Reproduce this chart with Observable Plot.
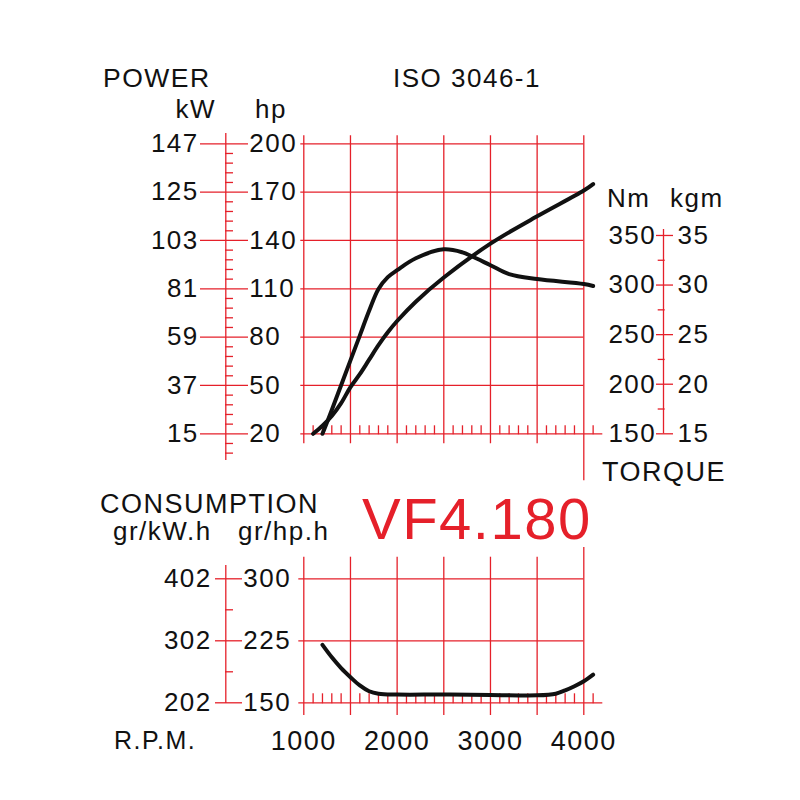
<!DOCTYPE html>
<html><head><meta charset="utf-8">
<script src="https://cdn.jsdelivr.net/npm/d3@7"></script>
<script src="https://cdn.jsdelivr.net/npm/@observablehq/plot@0.6"></script>
<style>
html,body{margin:0;padding:0;background:#fff;}
#wrap{position:relative;width:800px;height:800px;overflow:hidden;background:#fff;}
#wrap svg{position:absolute;left:0;}
svg text{letter-spacing:1.5px;}
#overlay{top:0;pointer-events:none;}
</style></head><body>
<div id="wrap">
</div>
<script>
// ---------- data ----------
const rpmPower = [1100,1200,1300,1400,1500,1600,1700,1800,1900,2000,2200,2500,3000,3500,4000,4100];
const powerHp  = [20,25,31,39,49,57,66,75,83,90,102,117,138,155,171,175];

const rpmTorque = [1200,1300,1400,1500,1600,1700,1800,1900,2000,2200,2500,2700,2800,3000,3200,3500,4000,4100];
const torqueNm  = [150,174,199,224,249,274,296,308,315,327,336,333,329,320,311,306,301,299];

const rpmCons  = [1200,1300,1400,1500,1600,1700,1800,2000,2500,3000,3500,3700,3800,3900,4000,4100];
const consGrHp = [220,205,192,181,171,164,161,160,160,159.5,159,161,165,170,176,184];

const hpTicks   = [20,50,80,110,140,170,200];
const kwLabels  = [15,37,59,81,103,125,147];
const nmTicks   = [150,200,250,300,350];
const kgmLabels = [15,20,25,30,35];
const nmMinor   = [175,225,275,325];
const consTicks = [150,225,300];
const consKwLabels = [202,302,402];
const consMinor = [187.5,262.5];
const rpmGrid   = [1000,1500,2000,2500,3000,3500,4000];
const rpmLabels = ["1000","2000","3000","4000"];

// ---------- helpers ----------
const RED = "#e5202a";
const INK = "#111";
const FONT = "'Liberation Sans', Arial, sans-serif";
const tq = d3.scaleLinear([150, 350], [20, 143.1]); // torque axis aligned on the power scale
const hpMinor = d3.range(8, 200, 6).filter(v => (v - 20) % 30 !== 0);
const rpmMinor = d3.range(1100, 4101, 100).filter(v => v % 500 !== 0);

const powerData  = rpmPower.map((r, i) => ({rpm: r, hp: powerHp[i]}));
const torqueData = rpmTorque.map((r, i) => ({rpm: r, nm: torqueNm[i]}));
const consData   = rpmCons.map((r, i) => ({rpm: r, g: consGrHp[i]}));

const sw = 1.3;

const topPlot = Plot.plot({
  width: 800, height: 500,
  marginLeft: 303.3, marginRight: 216.7, marginTop: 143.3, marginBottom: 66.7,
  x: {domain: [1000, 4000], axis: null},
  y: {domain: [20, 200], axis: null},
  style: {fontFamily: FONT, background: "transparent", overflow: "visible", color: INK},
  marks: [
    Plot.ruleX(rpmGrid.filter(r => r < 4000), {x: d => d, stroke: RED, strokeWidth: sw, insetTop: -8, insetBottom: -10}),
    Plot.ruleX([4000], {x: d => d, stroke: RED, strokeWidth: sw, insetTop: -8, insetBottom: -47}),
    Plot.ruleY(hpTicks.filter(v => v > 20), {y: d => d, stroke: RED, strokeWidth: sw, insetLeft: -3}),
    Plot.ruleY([20], {y: d => d, stroke: RED, strokeWidth: sw, insetLeft: -3, insetRight: -19}),
    Plot.axisX(rpmMinor, {anchor: "top", dy: 290, tickSize: 9, stroke: RED, strokeWidth: sw, fill: "none"}),
    // kW / hp axis
    Plot.ruleX([1000], {x: d => d, dx: -78, stroke: RED, strokeWidth: sw, insetTop: -10.3, insetBottom: -26.7}),
    Plot.axisY(hpTicks, {anchor: "left", dx: -55.3, tickSize: 48, stroke: RED, strokeWidth: sw, fill: "none"}),
    Plot.axisY(hpMinor, {anchor: "left", dx: -70.3, tickSize: 8, stroke: RED, strokeWidth: sw, fill: "none"}),
    Plot.text(hpTicks, {y: d => d, text: (d, i) => String(kwLabels[i]), frameAnchor: "left", dx: -105, textAnchor: "end", fontSize: 26, fill: INK}),
    Plot.text(hpTicks, {y: d => d, text: d => String(d), frameAnchor: "left", dx: -54.5, textAnchor: "start", fontSize: 26, fill: INK}),
    // torque axis
    Plot.ruleX([4000], {x: d => d, dx: 79.7, y1: tq(150), y2: tq(356), stroke: RED, strokeWidth: sw}),
    Plot.axisY(nmTicks.map(v => tq(v)), {anchor: "right", dx: 71.7, tickSize: 17, stroke: RED, strokeWidth: sw, fill: "none"}),
    Plot.axisY(nmMinor.map(v => tq(v)), {anchor: "right", dx: 73.4, tickSize: 7, stroke: RED, strokeWidth: sw, fill: "none"}),
    Plot.text(nmTicks, {y: d => tq(d), text: d => String(d), frameAnchor: "right", dx: 72.5, textAnchor: "end", fontSize: 26, fill: INK}),
    Plot.text(nmTicks, {y: d => tq(d), text: (d, i) => String(kgmLabels[i]), frameAnchor: "right", dx: 93.7, textAnchor: "start", fontSize: 26, fill: INK}),
    // curves
    Plot.line(powerData, {x: "rpm", y: "hp", stroke: INK, strokeWidth: 4, curve: "catmull-rom"}),
    Plot.line(torqueData, {x: "rpm", y: d => tq(d.nm), stroke: INK, strokeWidth: 4, curve: "catmull-rom"})
  ]
});
topPlot.style.top = "0px";

const bottomPlot = Plot.plot({
  width: 800, height: 300,
  marginLeft: 303.3, marginRight: 216.7, marginTop: 78.3, marginBottom: 97.7,
  x: {domain: [1000, 4000], axis: null},
  y: {domain: [150, 300], axis: null},
  style: {fontFamily: FONT, background: "transparent", overflow: "visible", color: INK},
  marks: [
    Plot.ruleX(rpmGrid.filter(r => r < 4000), {x: d => d, stroke: RED, strokeWidth: sw, insetTop: -21.6, insetBottom: -12.7}),
    Plot.ruleX([4000], {x: d => d, stroke: RED, strokeWidth: sw, insetTop: -31.3, insetBottom: -12.7}),
    Plot.ruleY(consTicks.filter(v => v > 150), {y: d => d, stroke: RED, strokeWidth: sw, insetLeft: -5}),
    Plot.ruleY([150], {y: d => d, stroke: RED, strokeWidth: sw, insetLeft: -5, insetRight: -19}),
    Plot.axisX(rpmMinor, {anchor: "top", dy: 124, tickSize: 10, stroke: RED, strokeWidth: sw, fill: "none"}),
    // gr/kW.h - gr/hp.h axis
    Plot.ruleX([1000], {x: d => d, dx: -78, stroke: RED, strokeWidth: sw, insetTop: -13.3, insetBottom: -0.7}),
    Plot.axisY(consTicks, {anchor: "left", dx: -61.3, tickSize: 27, stroke: RED, strokeWidth: sw, fill: "none"}),
    Plot.axisY(consMinor, {anchor: "left", dx: -70.3, tickSize: 8, stroke: RED, strokeWidth: sw, fill: "none"}),
    Plot.text(consTicks, {y: d => d, text: (d, i) => String(consKwLabels[i]), frameAnchor: "left", dx: -92, textAnchor: "end", fontSize: 26, fill: INK}),
    Plot.text(consTicks, {y: d => d, text: d => String(d), frameAnchor: "left", dx: -60.5, textAnchor: "start", fontSize: 26, fill: INK}),
    Plot.text(rpmLabels, {x: d => +d, text: d => d, frameAnchor: "bottom", lineAnchor: "bottom", dy: 46.7, fontSize: 27, fill: INK}),
    Plot.line(consData, {x: "rpm", y: "g", stroke: INK, strokeWidth: 4, curve: "catmull-rom"})
  ]
});
bottomPlot.style.top = "500px";

const wrap = document.getElementById("wrap");
wrap.appendChild(topPlot);
wrap.appendChild(bottomPlot);

// static titles / unit labels
const labels = [
  {t: "POWER", x: 103, y: 87, s: 26.5, a: "start"},
  {t: "ISO 3046-1", x: 393, y: 87, s: 26, a: "start"},
  {t: "kW", x: 216, y: 118, s: 26, a: "end"},
  {t: "hp", x: 255, y: 118, s: 26, a: "start"},
  {t: "Nm", x: 607, y: 207, s: 26, a: "start"},
  {t: "kgm", x: 670, y: 207, s: 26, a: "start"},
  {t: "TORQUE", x: 602, y: 481, s: 27, a: "start"},
  {t: "CONSUMPTION", x: 100, y: 513, s: 27, a: "start"},
  {t: "gr/kW.h", x: 113, y: 540, s: 26, a: "start"},
  {t: "gr/hp.h", x: 238, y: 540, s: 26, a: "start"},
  {t: "VF4.180", x: 362, y: 539, s: 58, a: "start", c: RED},
  {t: "R.P.M.", x: 114, y: 749, s: 25, a: "start"}
];
const ov = d3.select(wrap).append("svg").attr("id", "overlay")
  .attr("width", 800).attr("height", 800).style("font-family", FONT);
ov.selectAll("text").data(labels).join("text")
  .attr("x", d => d.x).attr("y", d => d.y)
  .attr("font-size", d => d.s).attr("text-anchor", d => d.a)
  .attr("fill", d => d.c || INK).text(d => d.t);
</script>
</body></html>
